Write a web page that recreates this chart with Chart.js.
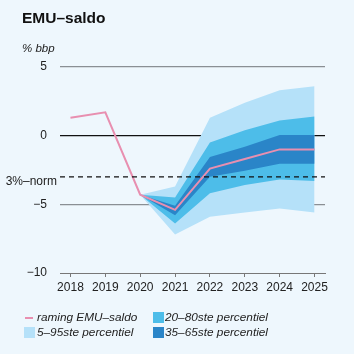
<!DOCTYPE html>
<html>
<head>
<meta charset="utf-8">
<script src="https://cdn.jsdelivr.net/npm/chart.js@4/dist/chart.umd.min.js"></script>
<style>
  body { margin: 0; background: #eef7fd; font-family: "Liberation Sans", Arial, sans-serif; }
  #wrap { position: relative; width: 354px; height: 354px; }
  canvas { position: absolute; left: 0; top: 0; }
  .title { position: absolute; left: 22px; top: 9px; font-size: 15.5px; font-weight: bold; color: #111; }
  .unit { position: absolute; left: 22px; top: 42px; font-size: 11.5px; font-style: italic; color: #222; }
  .leg { position: absolute; font-size: 11.8px; font-style: italic; color: #222; white-space: nowrap; }
  .sw { position: absolute; width: 11px; height: 11px; }
</style>
</head>
<body>
<div id="wrap">
  <canvas id="c" width="354" height="354"></canvas>
  <div class="title">EMU–saldo</div>
  <div class="unit">% bbp</div>
  <div class="sw" style="left:25px;top:317px;width:8px;height:2px;background:#e88fb0"></div>
  <div class="leg" style="left:37px;top:310px">raming EMU–saldo</div>
  <div class="sw" style="left:153px;top:312px;background:#4dbde9"></div>
  <div class="leg" style="left:165px;top:310px">20–80ste percentiel</div>
  <div class="sw" style="left:24px;top:327px;background:#b5e1f9"></div>
  <div class="leg" style="left:37px;top:325px">5–95ste percentiel</div>
  <div class="sw" style="left:153px;top:327px;background:#2a85c8"></div>
  <div class="leg" style="left:165px;top:325px">35–65ste percentiel</div>
</div>
<script>
const years = [2018, 2019, 2020, 2021, 2022, 2023, 2024, 2025];
const raming = [1.3, 1.7, -4.3, -5.4, -2.4, -1.7, -1.0, -1.0];

const bandYears = [2020, 2021, 2022, 2023, 2024, 2025];
const p5 = [-4.3, -7.2, -5.9, -5.6, -5.3, -5.6];
const p95 = [-4.3, -3.7, 1.3, 2.4, 3.3, 3.6];
const p20 = [-4.3, -6.4, -4.2, -3.6, -3.2, -3.3];
const p80 = [-4.3, -4.5, -0.5, 0.4, 1.1, 1.4];
const p35 = [-4.3, -5.8, -3.0, -2.55, -2.05, -2.05];
const p65 = [-4.3, -5.1, -1.55, -0.8, 0.05, 0.05];

const norm = -3;
const yTicks = [5, 0, -5, -10];

const pts = (xs, ys) => xs.map((x, i) => ({ x: x, y: ys[i] }));

function band(upper, lower, color, order) {
  return [
    { data: pts(bandYears, upper), borderWidth: 0, pointRadius: 0, backgroundColor: color, fill: '+1', order: order },
    { data: pts(bandYears, lower), borderWidth: 0, pointRadius: 0, fill: false, order: order }
  ];
}

const normLabel = {
  id: 'normLabel',
  afterDraw(chart) {
    const ctx = chart.ctx;
    const y = chart.scales.y.getPixelForValue(norm);
    ctx.save();
    ctx.font = '12px "Liberation Sans", Arial, sans-serif';
    ctx.fillStyle = '#222';
    ctx.textAlign = 'right';
    ctx.textBaseline = 'middle';
    ctx.fillText('3%–norm', 57, y + 5);
    ctx.restore();
  }
};

new Chart(document.getElementById('c'), {
  type: 'line',
  data: {
    datasets: [
      ...band(p95, p5, '#b5e1f9', 4),
      ...band(p80, p20, '#4dbde9', 3),
      ...band(p65, p35, '#2a85c8', 2),
      { data: pts(years, raming), borderColor: '#e88fb0', borderWidth: 2, pointRadius: 0, fill: false, order: 1 },
      { data: [{ x: 2017.7, y: norm }, { x: 2025.3, y: norm }], borderColor: '#111', borderWidth: 1.2,
        borderDash: [5, 4], pointRadius: 0, fill: false, order: 0 }
    ]
  },
  options: {
    responsive: false,
    animation: false,
    layout: { padding: { top: 67, right: 29, left: 0, bottom: 0 } },
    plugins: { legend: { display: false }, tooltip: { enabled: false } },
    scales: {
      x: {
        type: 'linear',
        min: 2017.7,
        max: 2025.3,
        afterBuildTicks(scale) { scale.ticks = years.map(v => ({ value: v })); },
        afterFit(scale) { scale.height = 81; },
        border: { display: true, color: '#777', width: 1 },
        grid: { drawOnChartArea: false, tickLength: 4, color: '#777' },
        ticks: { padding: 3, color: '#222', font: { size: 12, family: '"Liberation Sans", Arial, sans-serif' },
                 callback: v => String(v) }
      },
      y: {
        min: -10,
        max: 5,
        z: 1,
        afterBuildTicks(scale) { scale.ticks = yTicks.map(v => ({ value: v })); },
        afterFit(scale) { scale.width = 60; },
        border: { display: false },
        grid: {
          drawTicks: false,
          lineWidth: 1.2,
          color: c => c.tick.value === 0 ? '#111' : (c.tick.value === -10 ? 'rgba(0,0,0,0)' : '#8a8f94')
        },
        ticks: { padding: 13, color: '#222', font: { size: 12, family: '"Liberation Sans", Arial, sans-serif' },
                 callback: v => v < 0 ? '−' + Math.abs(v) : String(v) }
      }
    }
  },
  plugins: [normLabel]
});
</script>
</body>
</html>
